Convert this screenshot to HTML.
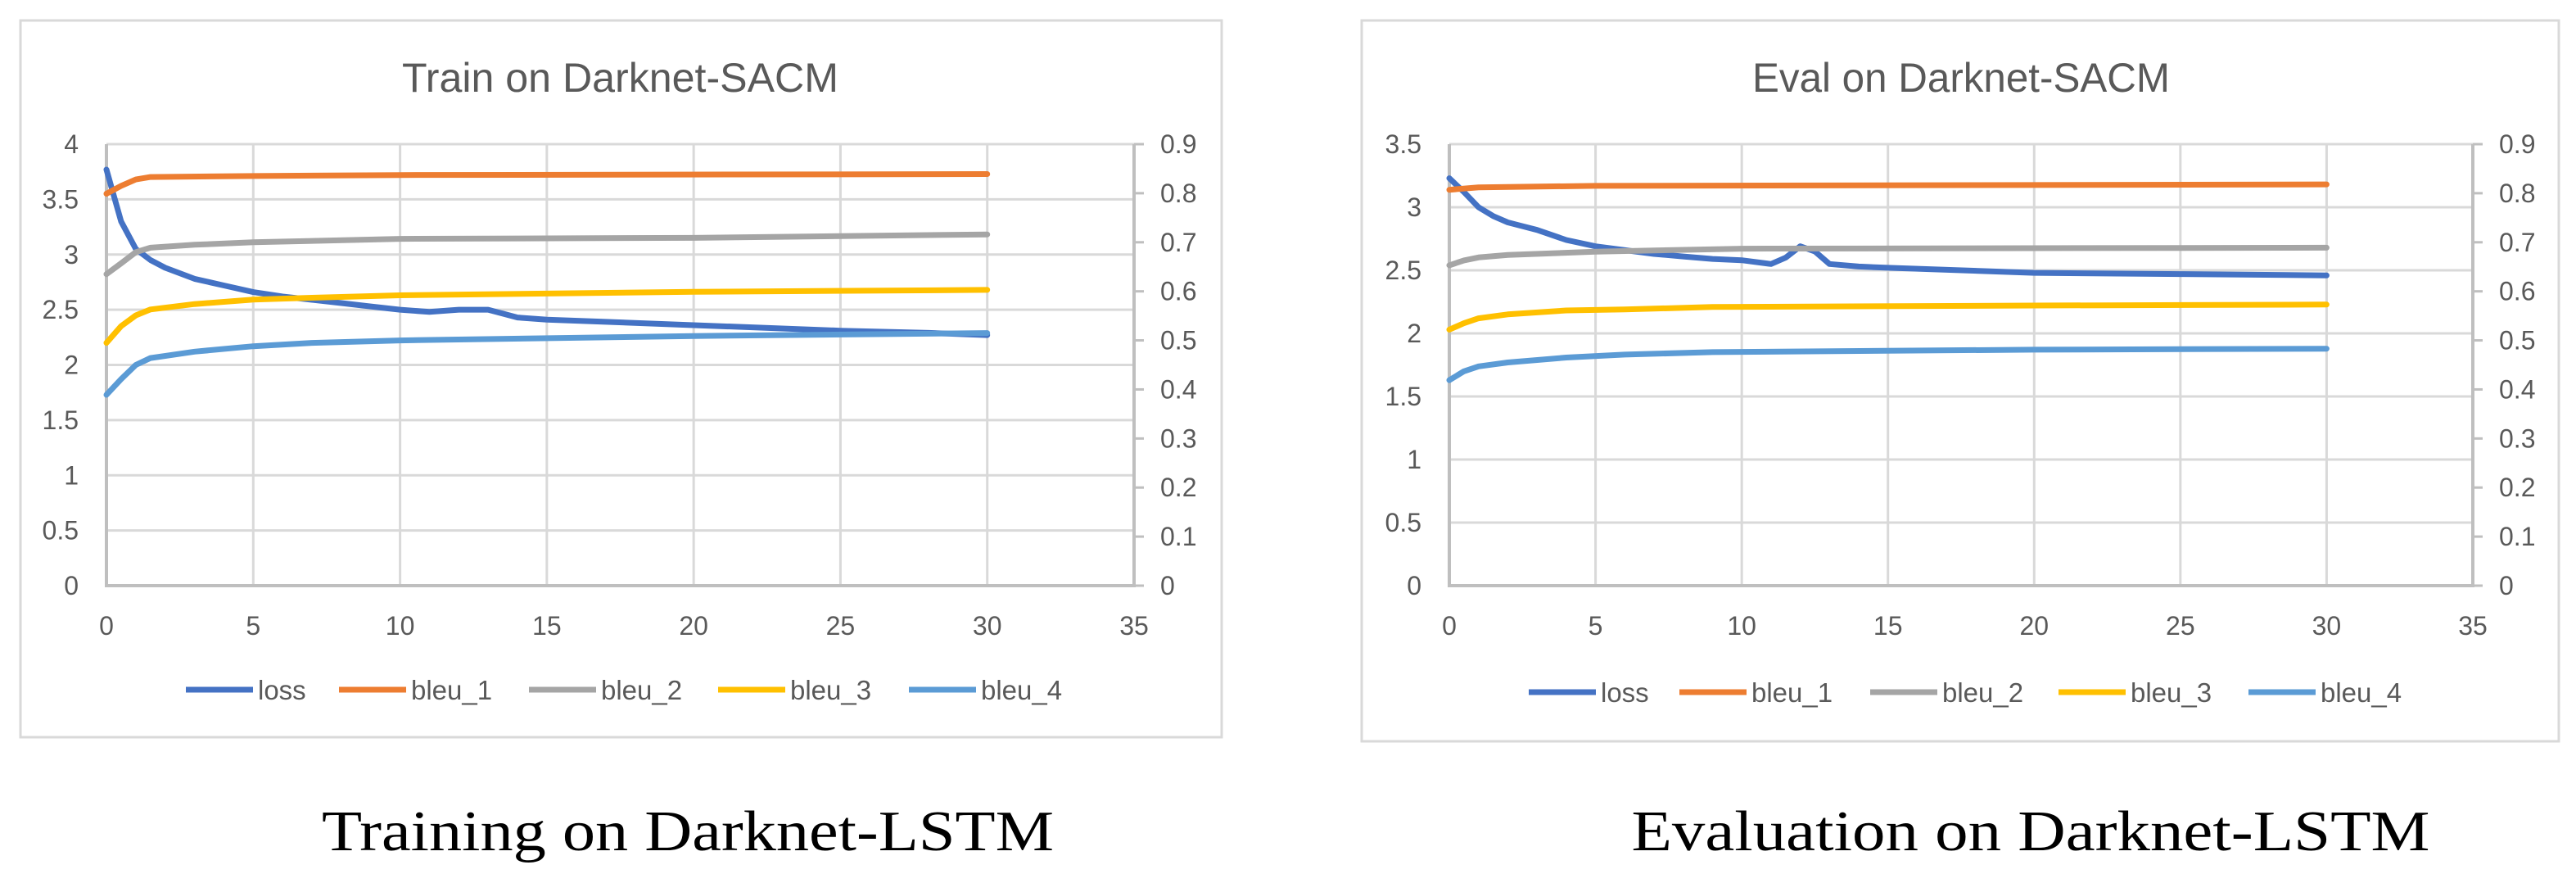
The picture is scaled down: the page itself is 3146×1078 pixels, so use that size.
<!DOCTYPE html>
<html><head><meta charset="utf-8"><style>
html,body{margin:0;padding:0;background:#fff;width:3146px;height:1078px;overflow:hidden}
svg{display:block}
</style></head><body>
<svg id="fig" width="3146" height="1078" xmlns="http://www.w3.org/2000/svg"></svg>
<script>
// ---- Chart A: Train on Darknet-SACM ----
const trainLossX = [0,0.5,1,1.5,2,3,4,5,6,7,8,9,10,11,12,13,14,15,17,20,23,25,28,30];
const trainLoss  = [3.77,3.3,3.05,2.95,2.88,2.78,2.72,2.66,2.62,2.59,2.56,2.53,2.50,2.48,2.50,2.50,2.43,2.41,2.39,2.36,2.33,2.31,2.29,2.27];
const trainB1X = [0,0.5,1,1.5,5,10,30];
const trainB1  = [0.799,0.815,0.828,0.833,0.835,0.837,0.839];
const trainB2X = [0,0.5,1,1.5,3,5,10,20,30];
const trainB2  = [0.635,0.657,0.680,0.689,0.695,0.700,0.707,0.709,0.716];
const trainB3X = [0,0.5,1,1.5,3,5,7,10,20,30];
const trainB3  = [0.495,0.529,0.551,0.563,0.574,0.583,0.587,0.592,0.599,0.603];
const trainB4X = [0,0.5,1,1.5,3,5,7,10,20,30];
const trainB4  = [0.389,0.421,0.450,0.464,0.477,0.488,0.495,0.500,0.509,0.515];
// ---- Chart B: Eval on Darknet-SACM ----
const evalLossX = [0,0.5,1,1.5,2,2.5,3,4,5,6,7,8,9,10,11,11.5,12,12.5,13,14,15,20,25,30];
const evalLoss  = [3.23,3.12,3.0,2.93,2.88,2.85,2.82,2.74,2.69,2.66,2.63,2.61,2.59,2.58,2.55,2.60,2.69,2.65,2.55,2.53,2.52,2.48,2.47,2.46];
const evalB1X = [0,1,5,30];
const evalB1  = [0.807,0.812,0.815,0.818];
const evalB2X = [0,0.5,1,2,5,10,30];
const evalB2  = [0.653,0.663,0.669,0.674,0.681,0.687,0.689];
const evalB3X = [0,0.5,1,2,4,6,9,20,30];
const evalB3  = [0.522,0.535,0.545,0.553,0.561,0.563,0.568,0.571,0.573];
const evalB4X = [0,0.5,1,2,4,6,9,20,30];
const evalB4  = [0.419,0.437,0.447,0.455,0.465,0.471,0.476,0.481,0.483];
// ticks
const xTicks = [0,5,10,15,20,25,30,35];
const trainYTicks = [0,0.5,1,1.5,2,2.5,3,3.5,4];
const evalYTicks = [0,0.5,1,1.5,2,2.5,3,3.5];
const y2Ticks = [0,0.1,0.2,0.3,0.4,0.5,0.6,0.7,0.8,0.9];
const seriesNames = ['loss','bleu_1','bleu_2','bleu_3','bleu_4'];
const colors = ['#4472C4','#ED7D31','#A5A5A5','#FFC000','#5B9BD5'];

const NS='http://www.w3.org/2000/svg';
const svg=document.getElementById('fig');
function mk(tag,attrs,parent,text){const e=document.createElementNS(NS,tag);for(const k in attrs)e.setAttribute(k,attrs[k]);if(text!==undefined)e.textContent=text;(parent||svg).appendChild(e);return e;}

function chart(cfg){
  const g=mk('g',{});
  
  
  const box=mk('rect',{x:cfg.bx,y:cfg.by,width:cfg.bw,height:cfg.bh,fill:'#fff',stroke:'#d9d9d9','stroke-width':3},g);
  
  
  const L=cfg.x0,R=cfg.x1,T=176,B=715;
  const sx=v=>L+(v-0)/35*(R-L);
  const sy=v=>B-v/cfg.ymax*(B-T);
  const sy2=v=>B-v/0.9*(B-T);
  const title=mk('text',{x:(L+R)/2,y:112,'text-anchor':'middle','font-family':'Liberation Sans, sans-serif','font-size':50,fill:'#595959',textLength:cfg.titleW,lengthAdjust:'spacingAndGlyphs'},g,cfg.title);
  
  
  cfg.yTicks.forEach(v=>{
    if(v>0){const l=mk('line',{x1:L,x2:R,y1:sy(v),y2:sy(v),stroke:'#d9d9d9','stroke-width':3},g);
    
    }
    const t=mk('text',{x:L-34,y:sy(v)+11,'text-anchor':'end','font-family':'Liberation Sans, sans-serif','font-size':32,fill:'#595959'},g,String(v));
    
    
  });
  xTicks.forEach(v=>{
    if(v>0&&v<35){const l=mk('line',{x1:sx(v),x2:sx(v),y1:T,y2:B,stroke:'#d9d9d9','stroke-width':3},g);
    
    }
    const t=mk('text',{x:sx(v),y:B+60,'text-anchor':'middle','font-family':'Liberation Sans, sans-serif','font-size':32,fill:'#595959'},g,String(v));
    
    
  });
  y2Ticks.forEach(v=>{
    const l=mk('line',{x1:R,x2:R+12,y1:sy2(v),y2:sy2(v),stroke:'#bfbfbf','stroke-width':3},g);
    
    
    const t=mk('text',{x:R+32,y:sy2(v)+11,'font-family':'Liberation Sans, sans-serif','font-size':32,fill:'#595959'},g,String(v));
    
    
  });
  const ax=mk('path',{d:`M${L},${T} V${B} H${R} V${T}`,fill:'none',stroke:'#bfbfbf','stroke-width':4},g);
  
  
  cfg.series.forEach((s,i)=>{
    const f=i===0?sy:sy2;
    const d=s.x.map((xv,j)=>(j?'L':'M')+sx(xv).toFixed(1)+','+f(s.y[j]).toFixed(1)).join(' ');
    const p=mk('path',{d:d,fill:'none',stroke:colors[i],'stroke-width':7,'stroke-linejoin':'round','stroke-linecap':'round'},g);
    
    
  });
  cfg.legend.forEach((lx,i)=>{
    const lg=mk('g',{},g);
    
    
    mk('line',{x1:lx,x2:lx+82,y1:cfg.ly,y2:cfg.ly,stroke:colors[i],'stroke-width':7},lg);
    mk('text',{x:lx+88,y:cfg.ly+12,'font-family':'Liberation Sans, sans-serif','font-size':33,fill:'#595959'},lg,seriesNames[i]);
  });
  const cap=mk('text',{x:cfg.capX,y:1038,'text-anchor':'middle','font-family':'Liberation Serif, serif','font-size':70,fill:'#000',textLength:cfg.capW,lengthAdjust:'spacingAndGlyphs'},svg,cfg.caption);
  
  
}
chart({name:'train-chart',bx:25,by:25,bw:1467,bh:875,x0:130,x1:1385,ymax:4,yTicks:trainYTicks,title:'Train on Darknet-SACM',titleW:533,
  series:[{x:trainLossX,y:trainLoss},{x:trainB1X,y:trainB1},{x:trainB2X,y:trainB2},{x:trainB3X,y:trainB3},{x:trainB4X,y:trainB4}],
  legend:[227,414,646,877,1110],ly:842,capX:840,capW:894,caption:'Training on Darknet-LSTM'});
chart({name:'eval-chart',bx:1663,by:25,bw:1462,bh:880,x0:1770,x1:3020,ymax:3.5,yTicks:evalYTicks,title:'Eval on Darknet-SACM',titleW:510,
  series:[{x:evalLossX,y:evalLoss},{x:evalB1X,y:evalB1},{x:evalB2X,y:evalB2},{x:evalB3X,y:evalB3},{x:evalB4X,y:evalB4}],
  legend:[1867,2051,2284,2514,2746],ly:845,capX:2480,capW:975,caption:'Evaluation on Darknet-LSTM'});
</script>
</body></html>
